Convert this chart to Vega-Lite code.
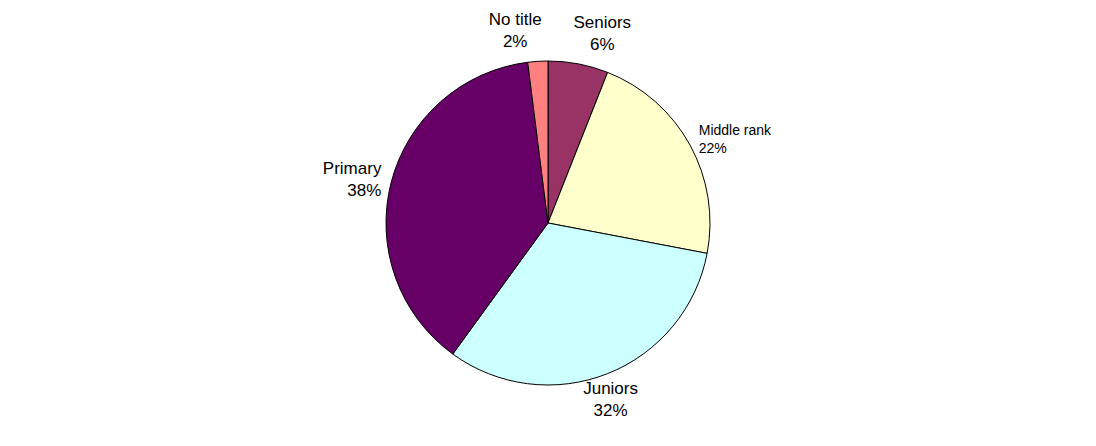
{
  "$schema": "https://vega.github.io/schema/vega-lite/v6.json",
  "width": 1096,
  "height": 446,
  "autosize": {"type": "fit", "contains": "padding"},
  "padding": 0,
  "background": "white",
  "view": {"stroke": null},
  "data": {
    "values": [
      {"idx": 1, "name": "Seniors", "pct": 6},
      {"idx": 2, "name": "Middle rank", "pct": 22},
      {"idx": 3, "name": "Juniors", "pct": 32},
      {"idx": 4, "name": "Primary", "pct": 38},
      {"idx": 5, "name": "No title", "pct": 2}
    ]
  },
  "transform": [
    {"stack": "pct", "groupby": [], "sort": [{"field": "idx", "order": "ascending"}], "as": ["t0", "t1"]},
    {"calculate": "(datum.t0 + datum.t1) / 2", "as": "tmid"},
    {"calculate": "datum.name + '\\n' + datum.pct + '%'", "as": "label"}
  ],
  "encoding": {
    "text": {"field": "label"}
  },
  "layer": [
    {
      "mark": {"type": "arc", "outerRadius": 162, "stroke": "black", "strokeWidth": 1},
      "encoding": {
        "theta": {"field": "t0", "type": "quantitative", "scale": {"domain": [0, 100]}},
        "theta2": {"field": "t1"},
        "color": {
          "field": "name",
          "type": "nominal",
          "scale": {
            "domain": ["Seniors", "Middle rank", "Juniors", "Primary", "No title"],
            "range": ["#993366", "#FFFFCC", "#CCFFFF", "#660066", "#FF8080"]
          },
          "legend": null
        }
      }
    },
    {
      "transform": [{"filter": "datum.name === 'No title'"}],
      "mark": {"type": "text", "radius": 172, "font": "Liberation Sans", "lineBreak": "\n", "color": "black", "align": "center", "baseline": "bottom", "dx": -22, "dy": -22, "lineHeight": 22, "fontSize": 17},
      "encoding": {"theta": {"field": "tmid", "type": "quantitative", "scale": {"domain": [0, 100]}}}
    },
    {
      "transform": [{"filter": "datum.name === 'Seniors'"}],
      "mark": {"type": "text", "radius": 172, "font": "Liberation Sans", "lineBreak": "\n", "color": "black", "align": "center", "baseline": "bottom", "dx": 22, "dy": -22, "lineHeight": 22, "fontSize": 17},
      "encoding": {"theta": {"field": "tmid", "type": "quantitative", "scale": {"domain": [0, 100]}}}
    },
    {
      "transform": [{"filter": "datum.name === 'Middle rank'"}],
      "mark": {"type": "text", "radius": 172, "font": "Liberation Sans", "lineBreak": "\n", "color": "black", "align": "left", "baseline": "middle", "dy": -9, "lineHeight": 18, "fontSize": 14},
      "encoding": {"theta": {"field": "tmid", "type": "quantitative", "scale": {"domain": [0, 100]}}}
    },
    {
      "transform": [{"filter": "datum.name === 'Juniors'"}],
      "mark": {"type": "text", "radius": 170, "font": "Liberation Sans", "lineBreak": "\n", "color": "black", "align": "center", "baseline": "top", "lineHeight": 22, "fontSize": 17},
      "encoding": {"theta": {"field": "tmid", "type": "quantitative", "scale": {"domain": [0, 100]}}}
    },
    {
      "transform": [{"filter": "datum.name === 'Primary'"}],
      "mark": {"type": "text", "radius": 172, "font": "Liberation Sans", "lineBreak": "\n", "color": "black", "align": "right", "baseline": "middle", "dy": -11, "lineHeight": 22, "fontSize": 17},
      "encoding": {"theta": {"field": "tmid", "type": "quantitative", "scale": {"domain": [0, 100]}}}
    }
  ]
}
